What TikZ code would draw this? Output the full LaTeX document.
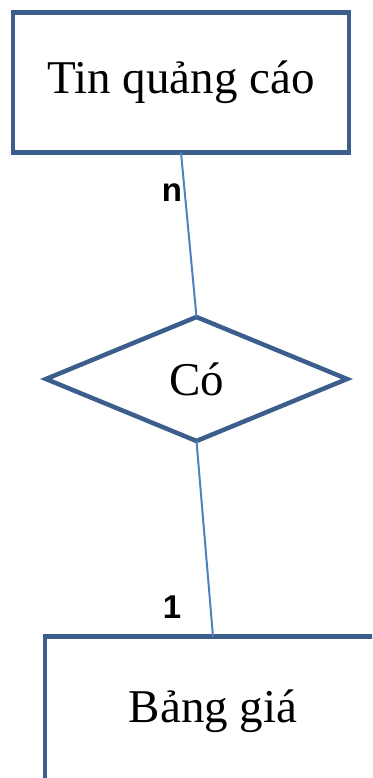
\documentclass[tikz,border=0pt]{standalone}
\usepackage{fontspec}
\setmainfont{Liberation Serif}
\newfontfamily\cardfont{Liberation Sans}
\usepackage{tikz}
\usetikzlibrary{positioning,shapes.geometric}
\definecolor{erline}{HTML}{3B5E8C}
\definecolor{erlink}{HTML}{4F81BD}

\begin{document}
\begin{tikzpicture}[entity/.style={rectangle, draw=erline, line width=4.5pt, outer sep=0pt, minimum width=336pt, minimum height=140pt, font=\fontsize{47}{56}\selectfont},
	relation/.style={diamond, draw=erline, line width=4.5pt, outer sep=0pt, inner sep=0pt, minimum width=301pt, minimum height=124pt, font=\fontsize{47}{56}\selectfont},
	card/.style={font=\cardfont\bfseries\fontsize{33}{40}\selectfont, inner sep=0pt},
	link/.style={draw=erlink, line width=2pt}]
		\useasboundingbox (0,0) rectangle (372pt,-778pt);
		\clip (0,0) rectangle (372pt,-778pt);
		\node (tin) [entity] at (181pt,-82.5pt) {Tin quảng cáo};
		\node (co) [relation, below=164.5pt of tin, xshift=15.5pt] {Có};
		\node (bang) [entity, minimum height=150pt, below=195.7pt of co, xshift=16.5pt] {Bảng giá};
		
		\draw [link] (tin.south) -- (co.north);
		\draw [link] (co.south) -- (bang.north);
		\node (ln) [card] at (tin.south) [xshift=-9pt, yshift=-40.5pt] {n};
		\node (l1) [card] at (bang.north) [xshift=-41pt, yshift=29.7pt] {1};
	\end{tikzpicture}
\end{document}
